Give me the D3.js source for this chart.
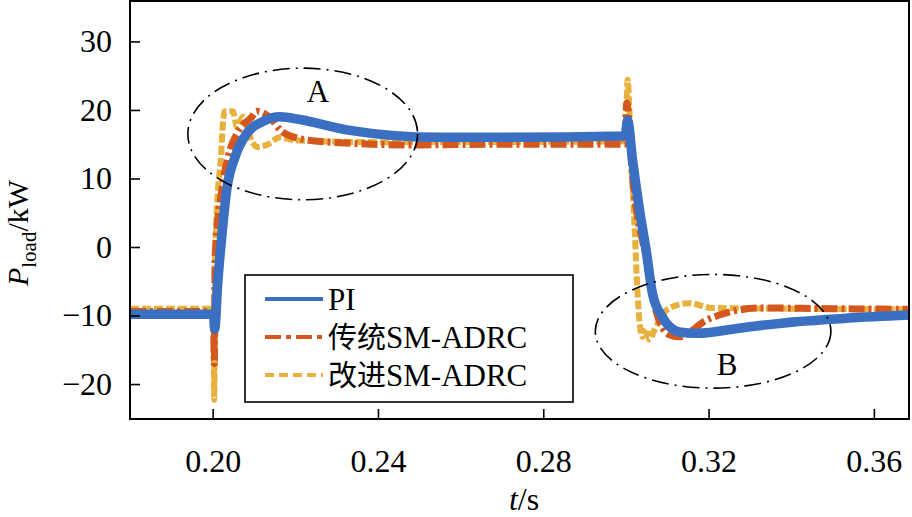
<!DOCTYPE html>
<html>
<head>
<meta charset="utf-8">
<script src="https://cdn.jsdelivr.net/npm/d3@7"></script>
<style>
  body { margin: 0; background: #fff; }
</style>
</head>
<body>
<script>
'use strict';

// series: time (s) and load power (kW)
var tPI   = [0.18, 0.2002, 0.2005, 0.2012, 0.2022, 0.2034, 0.2054, 0.2083, 0.2121, 0.2163, 0.2211, 0.2324, 0.2549, 0.2700, 0.2998,
             0.3004, 0.3016, 0.3033, 0.3050, 0.3064, 0.3088, 0.3129, 0.3170, 0.3291, 0.3412, 0.3533, 0.37];
var pPI   = [-9.8, -9.8, -12, -5.5, 1.5, 8.3, 13.1, 16.6, 18.3, 19, 18.6, 17.1, 16, 16, 16.2,
             18.5, 12.7, 5.4, -0.9, -6.7, -10.2, -12.4, -12.6, -11.7, -10.9, -10.4, -9.9];

var tOld  = [0.18, 0.2002, 0.2004, 0.2006, 0.2022, 0.2037, 0.2059, 0.2095, 0.2107, 0.2140, 0.2163, 0.2204, 0.2283, 0.2484, 0.2700, 0.2997,
             0.3002, 0.3016, 0.3050, 0.3074, 0.3105, 0.3129, 0.3194, 0.3250, 0.3330, 0.3500, 0.37];
var pOld  = [-9.4, -9.4, -17, -1.5, 8.3, 13.1, 16.6, 19, 19.8, 18.8, 17.1, 15.9, 15.3, 14.9, 15, 15,
             21, 10.2, -1.9, -9.6, -12.8, -13.1, -10.7, -9.5, -8.9, -9.0, -9.1];

var tNew  = [0.18, 0.2002, 0.2004, 0.2006, 0.2013, 0.2020, 0.2025, 0.2030, 0.2049, 0.2059, 0.2073, 0.2097, 0.2107, 0.2131, 0.2163, 0.2194, 0.2404, 0.2999,
             0.3004, 0.3013, 0.3021, 0.3028, 0.3040, 0.3050, 0.3057, 0.3070, 0.3081, 0.3105, 0.3153, 0.3209, 0.3400, 0.37];
var pNew  = [-9.0, -9.0, -22.3, -1.5, 8.3, 13.1, 18.1, 19.8, 19.8, 17.5, 19, 15.2, 14.6, 14.9, 16, 15.6, 15.3, 15.4,
             24.4, 12.7, 2.9, -6.7, -13.1, -12, -13.5, -12, -10.7, -8.9, -8.2, -8.9, -9.0, -9.1];

var seriesNames = [['', 'PI'], ['传统', 'SM-ADRC'], ['改进', 'SM-ADRC']];

var xTicks = [0.20, 0.24, 0.28, 0.32, 0.36];
var yTicks = [-20, -10, 0, 10, 20, 30];

// dash-dot ellipses: centre t, centre P, half width (s), half height (kW)
var ellipseA = [0.2218, 16.5, 0.0278, 9.6];
var ellipseB = [0.3211, -12.3, 0.0285, 8.3];
var labelA = [0.2255, 21.2];
var labelB = [0.3245, -18.7];

var SERIF = '"Liberation Serif", "Times New Roman", Times, "DejaVu Serif", serif';
var CJK = '"Noto Sans CJK SC", sans-serif';

{ // INIT
  let width  = 912,
      height = 517;

  let mLeft = 130, mRight = 909, mTop = 1, mBottom = 419;

  let x = d3.scaleLinear().domain([0.18, 0.3685]).range([mLeft, mRight]);
  let y = d3.scaleLinear().domain([-25.1, 35.9]).range([mBottom, mTop]);

  let colors = ['#3b6fc1', '#d4581e', '#e8b13d'];
  let widths = [9.5, 7, 6];
  let dashes = [null, '16,4,3,4', '9,3'];

  let svg = d3.select('body').append('svg')
      .attr('width', width)
      .attr('height', height)
      .attr('font-family', SERIF);

  svg.append('defs').append('clipPath')
      .attr('id', 'clip')
    .append('rect')
      .attr('x', mLeft)
      .attr('y', mTop)
      .attr('width', mRight - mLeft)
      .attr('height', mBottom - mTop);

  let line = d3.line()
      .curve(d3.curveMonotoneX)
      .x(function(d) {return x(d[0]);})
      .y(function(d) {return y(d[1]);});

  let data = [
    d3.zip(tPI, pPI),
    d3.zip(tOld, pOld),
    d3.zip(tNew, pNew)
  ];

  let plot = svg.append('g').attr('clip-path', 'url(#clip)');

  // yellow first, orange over it, blue on top
  [2, 1, 0].forEach(function(i) {
    plot.append('path')
        .datum(data[i])
        .attr('d', line)
        .attr('fill', 'none')
        .attr('stroke', colors[i])
        .attr('stroke-width', widths[i])
        .attr('stroke-linejoin', 'round')
        .attr('stroke-dasharray', dashes[i]);
  });

  // annotations
  [ellipseA, ellipseB].forEach(function(e) {
    plot.append('ellipse')
        .attr('cx', x(e[0]))
        .attr('cy', y(e[1]))
        .attr('rx', x(e[0] + e[2]) - x(e[0]))
        .attr('ry', y(e[1] - e[3]) - y(e[1]))
        .attr('fill', 'none')
        .attr('stroke', '#000')
        .attr('stroke-width', 1.6)
        .attr('stroke-dasharray', '17,6,2,6');
  });
  [[labelA, 'A'], [labelB, 'B']].forEach(function(l) {
    svg.append('text')
        .attr('x', x(l[0][0]))
        .attr('y', y(l[0][1]))
        .attr('text-anchor', 'middle')
        .attr('font-size', 31)
        .text(l[1]);
  });

  // axes
  let yAxis = svg.append('g')
      .attr('transform', 'translate(' + mLeft + ',0)')
      .call(d3.axisLeft(y).tickValues(yTicks).tickSizeInner(-10).tickSizeOuter(0).tickPadding(18));
  let xAxis = svg.append('g')
      .attr('transform', 'translate(0,' + mBottom + ')')
      .call(d3.axisBottom(x).tickValues(xTicks).tickFormat(d3.format('.2f'))
        .tickSizeInner(-10).tickSizeOuter(0).tickPadding(30));

  [xAxis, yAxis].forEach(function(a) {
    a.select('.domain').remove();
    a.selectAll('line').attr('stroke', '#000').attr('stroke-width', 1.6);
    a.attr('font-family', SERIF).attr('font-size', 32);
    a.selectAll('text').attr('fill', '#000');
  });

  svg.append('rect')
      .attr('x', mLeft)
      .attr('y', mTop)
      .attr('width', mRight - mLeft)
      .attr('height', mBottom - mTop)
      .attr('fill', 'none')
      .attr('stroke', '#000')
      .attr('stroke-width', 2);

  // axis titles
  let xt = svg.append('text')
      .attr('x', 524)
      .attr('y', 510)
      .attr('text-anchor', 'middle')
      .attr('font-size', 32);
  xt.append('tspan').attr('font-style', 'italic').text('t');
  xt.append('tspan').text('/s');

  let yt = svg.append('text')
      .attr('transform', 'translate(28,233) rotate(-90)')
      .attr('text-anchor', 'middle')
      .attr('font-size', 30);
  yt.append('tspan').attr('font-style', 'italic').text('P');
  yt.append('tspan').attr('dy', 8).attr('font-size', 21).text('load');
  yt.append('tspan').attr('dy', -8).text('/kW');

  // legend
  let legend = svg.append('g');
  legend.append('rect')
      .attr('x', 245)
      .attr('y', 275)
      .attr('width', 328)
      .attr('height', 127)
      .attr('fill', '#fff')
      .attr('stroke', '#000')
      .attr('stroke-width', 1.6);

  seriesNames.forEach(function(name, i) {
    let ly = 299 + i * 38;
    legend.append('line')
        .attr('x1', 265)
        .attr('x2', 323)
        .attr('y1', ly)
        .attr('y2', ly)
        .attr('stroke', colors[i])
        .attr('stroke-width', 4)
        .attr('stroke-dasharray', i === 1 ? '16,5,5,5' : (i === 2 ? '9,5' : null));
    let lt = legend.append('text')
        .attr('x', 328)
        .attr('y', ly + 11)
        .attr('font-size', 31);
    if (name[0]) {
      lt.append('tspan').attr('font-family', CJK).attr('font-size', 29).text(name[0]);
    }
    lt.append('tspan').text(name[1]);
  });
}
</script>
</body>
</html>
